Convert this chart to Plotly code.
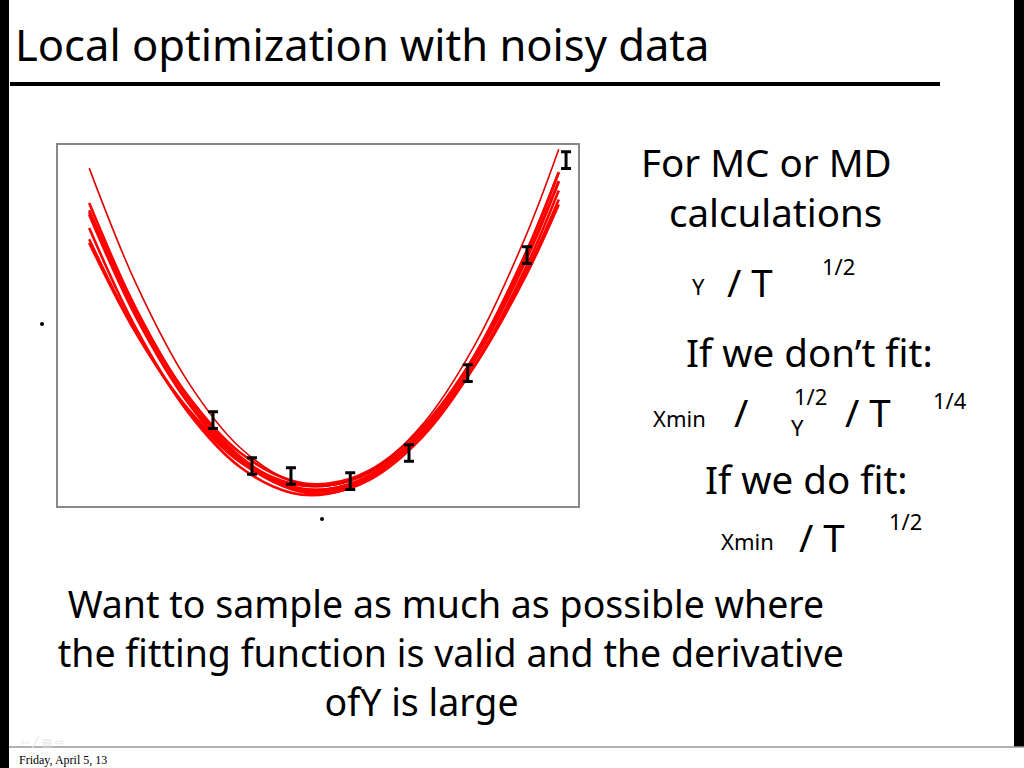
import plotly.graph_objects as go

W, H = 1024, 768

# ---- data (arbitrary units, x 0-100, y 0-100) ----
curve_x = [6, 15, 25, 35, 45, 52, 60, 70, 80, 90, 96.3]
curve_thin = [93.6, 61.6, 34.4, 16.2, 6.8, 5.6, 9.5, 22.4, 44.2, 74.9, 98.8]
curve_a = [83.9, 54.7, 30.1, 13.7, 5.5, 4.7, 8.6, 20.9, 41.4, 70.1, 92.4]
curve_b = [81.4, 53.0, 29.0, 13.0, 5.0, 4.2, 8.0, 20.0, 40.0, 68.0, 89.8]
curve_c = [80.7, 52.4, 28.6, 12.6, 4.6, 3.6, 7.3, 19.0, 38.6, 66.1, 87.4]
curve_d = [73.9, 48.2, 26.5, 12.2, 5.2, 4.7, 8.5, 19.9, 38.6, 64.7, 84.9]
curve_e = [72.9, 47.9, 26.9, 13.0, 6.2, 5.7, 9.4, 20.5, 38.6, 63.9, 83.5]
curve_f = [77.0, 49.2, 26.0, 10.8, 3.6, 3.4, 7.8, 20.6, 41.4, 70.2, 92.5]
curve_g = [81.9, 54.0, 30.5, 14.8, 7.0, 6.2, 9.9, 21.7, 41.3, 68.7, 90.0]
thick_curves = [curve_a, curve_b, curve_c, curve_d, curve_e, curve_f, curve_g]

data_x = [29.8, 37.3, 44.8, 56.2, 67.5, 78.8, 90.2, 97.7]
data_y = [23.8, 11.1, 8.3, 6.9, 14.7, 36.8, 69.5, 95.8]
data_err = [2.3, 2.3, 2.3, 2.3, 2.3, 2.3, 2.3, 2.3]

bottom_lines = ["Want to sample as much as possible where",
                "the fitting function is valid and the derivative",
                "ofY is large"]

fig = go.Figure()
for cy in thick_curves:
    fig.add_trace(go.Scatter(x=curve_x, y=cy, mode="lines",
                             line=dict(color="#ff0000", width=2.6, shape="spline"),
                             hoverinfo="skip"))
fig.add_trace(go.Scatter(x=curve_x, y=curve_thin, mode="lines",
                         line=dict(color="#e00000", width=1.6, shape="spline"),
                         hoverinfo="skip"))
fig.add_trace(go.Scatter(x=data_x, y=data_y, mode="markers",
                         marker=dict(size=1, color="black"),
                         error_y=dict(type="data", array=data_err, color="black",
                                      thickness=3, width=5),
                         cliponaxis=False))

def px(x):
    return x / W

def py(y):
    return 1 - y / H

FONT = "Noto Sans"
anns = []

def txt(s, x, y, size, xanchor="center", yanchor="middle", family=FONT, color="black"):
    anns.append(dict(text=s, x=px(x), y=py(y), xref="paper", yref="paper",
                     showarrow=False, xanchor=xanchor, yanchor=yanchor,
                     font=dict(family=family, size=size, color=color)))

BIG = 38.5
SMALL = 22
txt("Local optimization with noisy data", 13, 44, 43.5, xanchor="left")
txt("For MC or MD", 766, 162, BIG)
txt("calculations", 775, 212, BIG)
txt("Y", 698, 286, SMALL)
txt("/ T", 750, 282, BIG)
txt("1/2", 838, 266, SMALL)
txt("If we don\u2019t fit:", 809, 352, BIG)
txt("Xmin", 679, 418, SMALL)
txt("/", 741, 412, BIG)
txt("1/2", 810, 396, SMALL)
txt("Y", 797, 427, SMALL)
txt("/ T", 868, 412, BIG)
txt("1/4", 950, 400, SMALL)
txt("If we do fit:", 806, 479, BIG)
txt("Xmin", 747, 541, SMALL)
txt("/ T", 822, 537, BIG)
txt("1/2", 905, 521, SMALL)
pad = "\u00a0" * 5
txt("<br>".join([bottom_lines[0], "\u00a0" + bottom_lines[1], bottom_lines[2] + pad]),
    446, 652, 37.5)
txt("Friday, April 5, 13", 17, 760, 12, xanchor="left", family="Liberation Serif")
txt("\u21e6 \u2571 \u25a4 \u21e8", 18, 741, 11, xanchor="left", color="#e6e6e6")

shapes = [
    dict(type="rect", xref="paper", yref="paper", x0=0, x1=px(9), y0=0, y1=1,
         fillcolor="black", line=dict(width=0), layer="below"),
    dict(type="rect", xref="paper", yref="paper", x0=px(1014), x1=1, y0=py(747), y1=1,
         fillcolor="black", line=dict(width=0), layer="below"),
    dict(type="line", xref="paper", yref="paper", x0=px(10), x1=px(940), y0=py(84), y1=py(84),
         line=dict(color="black", width=4)),
    dict(type="line", xref="paper", yref="paper", x0=px(9), x1=1, y0=py(747), y1=py(747),
         line=dict(color="#999999", width=1.5)),
    dict(type="circle", xref="paper", yref="paper", x0=px(40), x1=px(44), y0=py(326), y1=py(322),
         fillcolor="black", line=dict(width=0)),
    dict(type="circle", xref="paper", yref="paper", x0=px(320), x1=px(324), y0=py(521), y1=py(517),
         fillcolor="black", line=dict(width=0)),
]

fig.update_layout(
    width=W, height=H, margin=dict(l=0, r=0, t=0, b=0),
    paper_bgcolor="white", plot_bgcolor="white", showlegend=False,
    annotations=anns, shapes=shapes,
    xaxis=dict(domain=[px(58), px(578)], range=[0, 100], showgrid=False, zeroline=False,
               showticklabels=False, ticks="", showline=True, mirror=True,
               linecolor="#888888", linewidth=1.5),
    yaxis=dict(domain=[py(506), py(145)], range=[0, 100], showgrid=False, zeroline=False,
               showticklabels=False, ticks="", showline=True, mirror=True,
               linecolor="#888888", linewidth=1.5),
)

fig.write_html("out.html", config={"displayModeBar": False},
               post_script="document.body.style.margin='0';document.body.style.overflow='hidden';")
